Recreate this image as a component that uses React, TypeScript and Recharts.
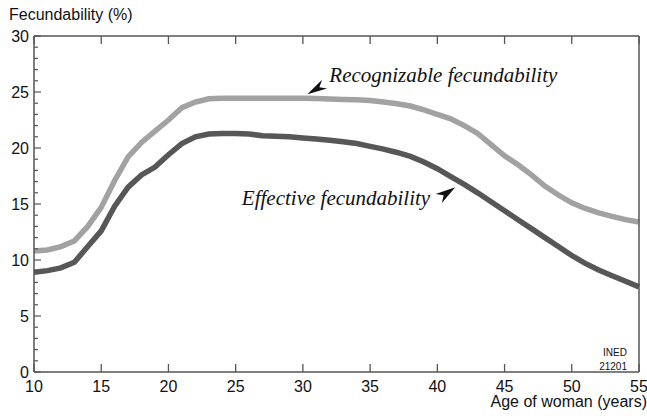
import { LineChart, Line, XAxis, YAxis, ReferenceDot } from "recharts";

const ages = [
  10, 11, 12, 13, 14, 15, 16, 17, 18, 19, 20, 21, 22, 23, 24, 25, 26, 27, 28, 29, 30, 31, 32,
  33, 34, 35, 36, 37, 38, 39, 40, 41, 42, 43, 44, 45, 46, 47, 48, 49, 50, 51, 52, 53, 54, 55,
];
const recognizable = [
  10.8, 10.9, 11.2, 11.7, 13.0, 14.7, 17.1, 19.2, 20.5, 21.5, 22.5, 23.6, 24.1, 24.4, 24.45,
  24.45, 24.45, 24.45, 24.45, 24.45, 24.45, 24.42, 24.38, 24.33, 24.3, 24.25, 24.1, 23.95,
  23.75, 23.4, 23.0, 22.6, 22.0, 21.3, 20.3, 19.3, 18.5, 17.6, 16.6, 15.8, 15.1, 14.6, 14.2,
  13.9, 13.6, 13.4,
];
const effective = [
  8.9, 9.05, 9.3, 9.8, 11.2, 12.6, 14.8, 16.5, 17.6, 18.3, 19.4, 20.4, 21.0, 21.25, 21.3, 21.3,
  21.25, 21.1, 21.05, 21.0, 20.9, 20.8, 20.7, 20.55, 20.4, 20.15, 19.9, 19.6, 19.25, 18.75,
  18.15, 17.45, 16.75, 16.0, 15.2, 14.4, 13.6, 12.8, 12.0, 11.2, 10.4, 9.7, 9.1, 8.6, 8.1, 7.6,
];
const xTicks = [10, 15, 20, 25, 30, 35, 40, 45, 50, 55];
const yTicks = Array.from({ length: 31 }, (_, i) => i);

const data = ages.map((age, i) => ({
  age,
  recognizable: recognizable[i],
  effective: effective[i],
}));

const axisColor = "#555";
const sans = "'Liberation Sans', Arial, sans-serif";
const serif = "'Liberation Serif', 'Times New Roman', serif";

// notched arrowhead, tip at (x, y), pointing away from direction (dx, dy)
const arrowPoints = (x: number, y: number, dx: number, dy: number, len = 20, w = 5.5) => {
  const d = Math.hypot(dx, dy);
  const ux = dx / d, uy = dy / d;
  const nx = -uy, ny = ux;
  const p = [
    [x, y],
    [x + ux * len + nx * w, y + uy * len + ny * w],
    [x + ux * (len - 6), y + uy * (len - 6)],
    [x + ux * len - nx * w, y + uy * len - ny * w],
  ];
  return p.map((q) => q.join(",")).join(" ");
};

const BottomTick = (p: any) => (
  <g>
    <line x1={p.x} x2={p.x} y1={p.y} y2={p.y - 8} stroke={axisColor} strokeWidth={1.3} />
    <text x={p.x} y={p.y + 14} textAnchor="middle" dominantBaseline="central" fontFamily={sans} fontSize={16} fill="#111">
      {p.payload.value}
    </text>
  </g>
);

const TopTick = (p: any) => (
  <line x1={p.x} x2={p.x} y1={p.y} y2={p.y + 8} stroke={axisColor} strokeWidth={1.3} />
);

const LeftTick = (p: any) => {
  const v = p.payload.value;
  const major = v % 5 === 0;
  return (
    <g>
      <line x1={p.x} x2={p.x + (major ? 7 : 4)} y1={p.y} y2={p.y} stroke={axisColor} strokeWidth={1.2} />
      {major && (
        <text x={p.x - 5} y={p.y} textAnchor="end" dominantBaseline="central" fontFamily={sans} fontSize={16} fill="#111">
          {v}
        </text>
      )}
    </g>
  );
};

const RightTick = (p: any) => {
  const major = p.payload.value % 5 === 0;
  return <line x1={p.x} x2={p.x - (major ? 9 : 4)} y1={p.y} y2={p.y} stroke={axisColor} strokeWidth={1.2} />;
};

const RecogLabel = (p: any) => (
  <g>
    <polygon points={arrowPoints(p.cx, p.cy, 17, -10, 20, 5)} fill="#111" />
    <text x={p.cx + 22} y={p.cy - 12} fontFamily={serif} fontStyle="italic" fontSize={21} fill="#111">
      Recognizable fecundability
    </text>
  </g>
);

const EffLabel = (p: any) => (
  <g>
    <polygon points={arrowPoints(p.cx, p.cy, -16, 11, 20, 5.5)} fill="#111" />
    <text x={p.cx - 25} y={p.cy + 18} textAnchor="end" fontFamily={serif} fontStyle="italic" fontSize={21} fill="#111">
      Effective fecundability
    </text>
  </g>
);

const axisLine = { stroke: axisColor, strokeWidth: 1.5 };

export default function App() {
  return (
    <div style={{ position: "absolute", left: 0, top: 0, width: 647, height: 416, background: "#fff" }}>
      <div style={{ position: "absolute", left: 9, top: 6.5, fontFamily: sans, fontSize: 16, lineHeight: "16px", color: "#111" }}>
        Fecundability (%)
      </div>
      <LineChart width={647} height={416} data={data} margin={{ top: 35, right: 7, bottom: 0, left: 0 }}>
        <XAxis
          xAxisId="b"
          dataKey="age"
          type="number"
          domain={[10, 55]}
          ticks={xTicks}
          interval={0}
          height={44}
          tickSize={0}
          tickMargin={0}
          tickLine={false}
          axisLine={axisLine}
          tick={(p: any) => <BottomTick {...p} />}
        />
        <XAxis
          xAxisId="t"
          orientation="top"
          dataKey="age"
          type="number"
          domain={[10, 55]}
          ticks={xTicks}
          interval={0}
          height={1}
          tickSize={0}
          tickMargin={0}
          tickLine={false}
          axisLine={axisLine}
          tick={(p: any) => <TopTick {...p} />}
        />
        <YAxis
          yAxisId="l"
          type="number"
          domain={[0, 30]}
          ticks={yTicks}
          interval={0}
          width={34}
          tickSize={0}
          tickMargin={0}
          tickLine={false}
          axisLine={axisLine}
          tick={(p: any) => <LeftTick {...p} />}
        />
        <YAxis
          yAxisId="r"
          orientation="right"
          type="number"
          domain={[0, 30]}
          ticks={yTicks}
          interval={0}
          width={1}
          tickSize={0}
          tickMargin={0}
          tickLine={false}
          axisLine={axisLine}
          tick={(p: any) => <RightTick {...p} />}
        />
        <Line
          xAxisId="b"
          yAxisId="l"
          type="linear"
          dataKey="recognizable"
          stroke="#a2a2a2"
          strokeWidth={5.5}
          dot={false}
          isAnimationActive={false}
        />
        <Line
          xAxisId="b"
          yAxisId="l"
          type="linear"
          dataKey="effective"
          stroke="#575757"
          strokeWidth={5.5}
          dot={false}
          isAnimationActive={false}
        />
        <ReferenceDot xAxisId="b" yAxisId="l" x={30.33} y={24.8} shape={(p: any) => <RecogLabel {...p} />} />
        <ReferenceDot xAxisId="b" yAxisId="l" x={41.33} y={16.5} shape={(p: any) => <EffLabel {...p} />} />
      </LineChart>
      <div style={{ position: "absolute", right: 20, top: 348, fontFamily: sans, fontSize: 10, lineHeight: "10px", color: "#111", textAlign: "right" }}>
        INED
      </div>
      <div style={{ position: "absolute", right: 20, top: 362, fontFamily: sans, fontSize: 10, lineHeight: "10px", color: "#111", textAlign: "right" }}>
        21201
      </div>
      <div style={{ position: "absolute", right: 0, top: 394, fontFamily: sans, fontSize: 16, lineHeight: "16px", color: "#111", whiteSpace: "nowrap" }}>
        Age of woman (years)
      </div>
    </div>
  );
}
